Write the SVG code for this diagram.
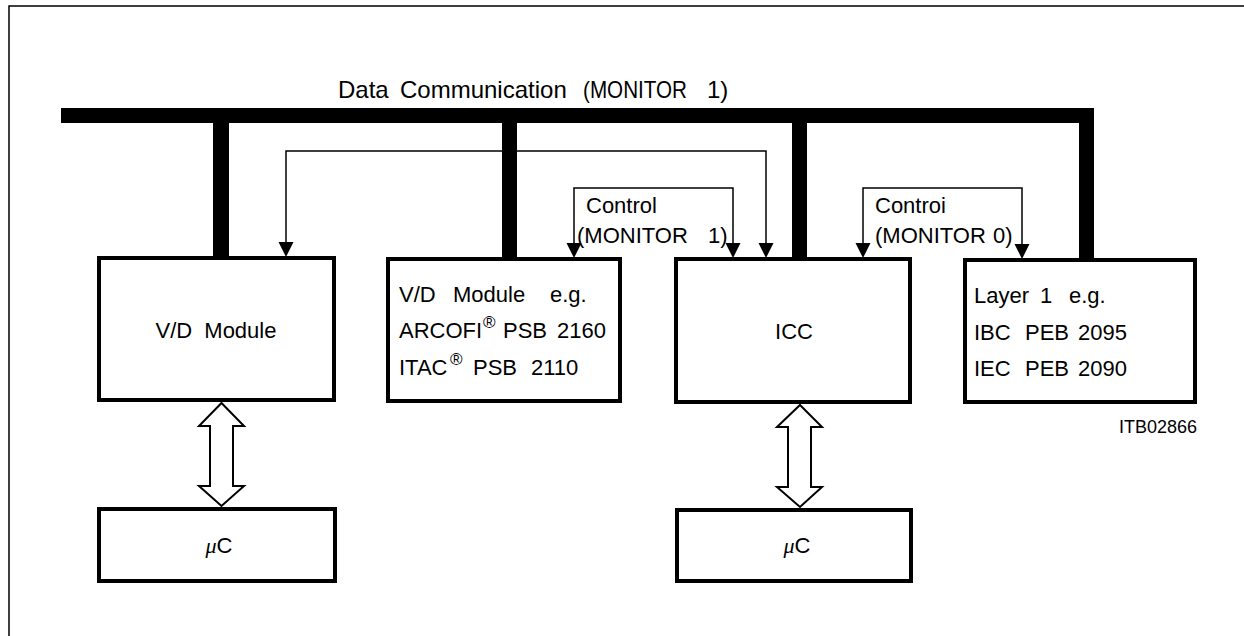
<svg xmlns="http://www.w3.org/2000/svg" width="1244" height="636" viewBox="0 0 1244 636">
<style>
text{font-family:"Liberation Sans",Arial,sans-serif;fill:#000}
.t{font-size:22px}
.ti{font-size:24px}
.box{fill:#fff;stroke:#000;stroke-width:4}
.thin{fill:none;stroke:#000;stroke-width:1.5}
.bus{fill:#000}
.dbl{fill:#fff;stroke:#000;stroke-width:2;stroke-linejoin:miter}
.frame{fill:none;stroke:#000;stroke-width:1.5}
.sup{font-size:17px}
.mu{font-family:"Liberation Serif",serif;font-style:italic}
</style>
<rect width="1244" height="636" fill="#fff"/>
<path class="frame" d="M9,636 V6 H1244"/>

<g id="bus">
<rect class="bus" x="61" y="108" width="1033" height="15"/>
<rect class="bus" x="213" y="108" width="16" height="150"/>
<rect class="bus" x="502" y="108" width="15" height="151"/>
<rect class="bus" x="792" y="108" width="15" height="151"/>
<rect class="bus" x="1079" y="108" width="15" height="152"/>
<text class="ti" y="98"><tspan x="338">Data</tspan><tspan x="400">Communication</tspan><tspan x="583" textLength="104" lengthAdjust="spacingAndGlyphs">(MONITOR</tspan><tspan x="707">1)</tspan></text>
</g>

<g id="connectors">
<path class="thin" d="M286,243 V151 H766 V243"/>
<path class="thin" d="M574,243 V188 H733 V243"/>
<path class="thin" d="M863,243 V188 H1022 V244"/>
<path d="M278.5,242 H293.5 L286,257 Z"/>
<path d="M758.5,243 H773.5 L766,258 Z"/>
<path d="M566.5,243 H581.5 L574,258 Z"/>
<path d="M725.5,243 H740.5 L733,258 Z"/>
<path d="M855.5,243 H870.5 L863,258 Z"/>
<path d="M1014.5,244 H1029.5 L1022,259 Z"/>
<polygon class="dbl" points="221.5,403 244,426 233,426 233,486 244,486 221.5,506 199,486 210,486 210,426 199,426"/>
<polygon class="dbl" points="800,405 822,427 811,427 811,487 822,487 800,507 777,487 788,487 788,427 777,427"/>
</g>

<g id="label-control1">
<text class="t" y="213"><tspan x="586">Control</tspan></text>
<text class="t" y="243"><tspan x="577">(MONITOR</tspan><tspan x="708">1)</tspan></text>
</g>
<g id="label-control0">
<text class="t" y="213"><tspan x="875">Controi</tspan></text>
<text class="t" y="243"><tspan x="875">(MONITOR</tspan><tspan x="993">0)</tspan></text>
</g>

<g id="vd-module">
<rect class="box" x="99" y="258" width="235" height="142"/>
<text class="t" x="216" y="338" text-anchor="middle" word-spacing="6">V/D Module</text>
</g>

<g id="vd-module-eg">
<rect class="box" x="388" y="259" width="232" height="142"/>
<text class="t" y="302"><tspan x="399">V/D</tspan><tspan x="453">Module</tspan><tspan x="550">e.g.</tspan></text>
<text class="t" y="338"><tspan x="399">ARCOFI</tspan><tspan x="483" dy="-10" class="sup">®</tspan><tspan x="503" dy="10">PSB</tspan><tspan x="557">2160</tspan></text>
<text class="t" y="375"><tspan x="399">ITAC</tspan><tspan x="450" dy="-10" class="sup">®</tspan><tspan x="473" dy="10">PSB</tspan><tspan x="531">2110</tspan></text>
</g>

<g id="icc">
<rect class="box" x="676" y="259" width="234" height="143"/>
<text class="t" x="794" y="339" text-anchor="middle">ICC</text>
</g>

<g id="layer1">
<rect class="box" x="965" y="260" width="230" height="142"/>
<text class="t" y="303"><tspan x="974">Layer</tspan><tspan x="1040">1</tspan><tspan x="1069">e.g.</tspan></text>
<text class="t" y="340"><tspan x="974">IBC</tspan><tspan x="1025">PEB</tspan><tspan x="1078">2095</tspan></text>
<text class="t" y="376"><tspan x="974">IEC</tspan><tspan x="1025">PEB</tspan><tspan x="1078">2090</tspan></text>
</g>

<g id="uc1">
<rect class="box" x="99" y="509" width="236" height="72"/>
<text class="t" x="219" y="553" text-anchor="middle"><tspan class="mu">μ</tspan>C</text>
</g>

<g id="uc2">
<rect class="box" x="677" y="510" width="234" height="71"/>
<text class="t" x="797" y="553" text-anchor="middle"><tspan class="mu">μ</tspan>C</text>
</g>

<text x="1197" y="433" text-anchor="end" font-size="18">ITB02866</text>
</svg>
